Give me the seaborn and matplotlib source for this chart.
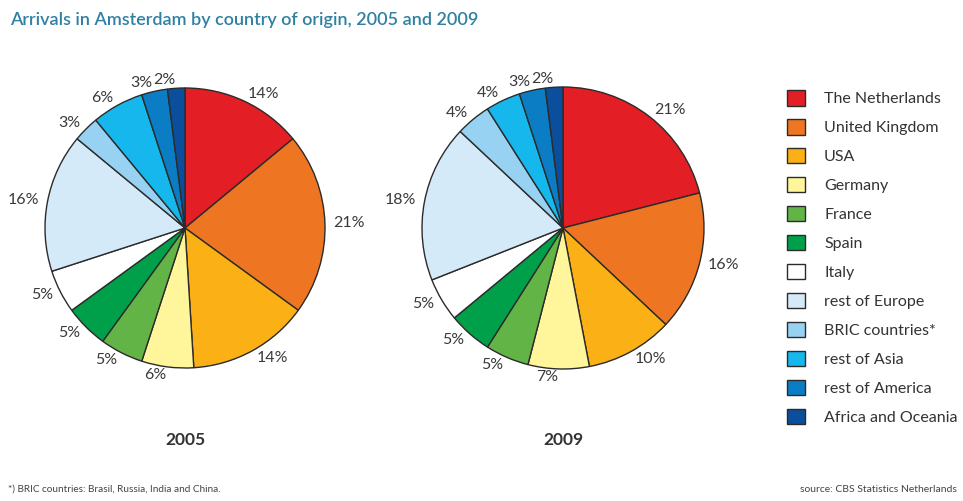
import matplotlib
matplotlib.use("Agg")
import matplotlib.pyplot as plt
import seaborn as sns

# categories, clockwise from the top of each pie
countries = ["The Netherlands", "United Kingdom", "USA", "Germany", "France", "Spain",
             "Italy", "rest of Europe", "BRIC countries*", "rest of Asia",
             "rest of America", "Africa and Oceania"]
share_2005 = [14, 21, 14, 6, 5, 5, 5, 16, 3, 6, 3, 2]
share_2009 = [21, 16, 10, 7, 5, 5, 5, 18, 4, 4, 3, 2]
years = ["2005", "2009"]

colors = ["#e31e24", "#ee7623", "#fbb116", "#fff59a", "#62b446", "#00a04b",
          "#ffffff", "#d5eaf8", "#97d2f2", "#16b7ec", "#0a7dc4", "#0b4f9c"]

sns.set_theme(style="white")
plt.rcParams["font.family"] = ["Lato", "DejaVu Sans"]

W, H = 963, 501
fig = plt.figure(figsize=(W / 100, H / 100), dpi=100)
fig.patch.set_facecolor("white")

def pie_axes(cx, cy, r):
    # axes in pixel terms; pie radius 1 spans r pixels with limits +-1.25
    half = 1.25 * r
    return fig.add_axes([(cx - half) / W, (H - cy - half) / H, 2 * half / W, 2 * half / H])

centers = [(185, 228), (563, 228)]
radii = [140, 141]
wedges = None
for (cx, cy), r, year, vals in zip(centers, radii, years, [share_2005, share_2009]):
    ax = pie_axes(cx, cy, r)
    wedges, texts = ax.pie(vals, colors=colors, startangle=90, counterclock=False,
                           labels=[f"{v}%" for v in vals], labeldistance=1.06,
                           wedgeprops=dict(edgecolor="#2b2b2b", linewidth=1.0),
                           textprops=dict(fontsize=11.5, color="#3a3a3a"))
    ax.set_xlim(-1.25, 1.25)
    ax.set_ylim(-1.25, 1.25)
    ax.set_aspect("equal")
    ax.axis("off")
    fig.text(cx / W, 1 - 440 / H, year, ha="center", va="center",
             fontsize=12.5, fontweight="bold", color="#333333")

fig.text(10 / W, 1 - 20 / H, "Arrivals in Amsterdam by country of origin, 2005 and 2009",
         ha="left", va="center", fontsize=13, fontweight="semibold", color="#2f80a3")

fig.legend(wedges, countries, loc="upper left", bbox_to_anchor=(787 / W, 1 - 90 / H),
           frameon=False, fontsize=11.5, handlelength=1.12, handleheight=1.12,
           handletextpad=1.2, labelspacing=0.8, borderpad=0, borderaxespad=0,
           labelcolor="#333333")

fig.text(8 / W, 1 - 489 / H, "*) BRIC countries: Brasil, Russia, India and China.",
         ha="left", va="center", fontsize=7.2, color="#444444")
fig.text(957 / W, 1 - 489 / H, "source: CBS Statistics Netherlands",
         ha="right", va="center", fontsize=7.5, color="#444444")

fig.savefig("out.png", dpi=100, facecolor="white")
